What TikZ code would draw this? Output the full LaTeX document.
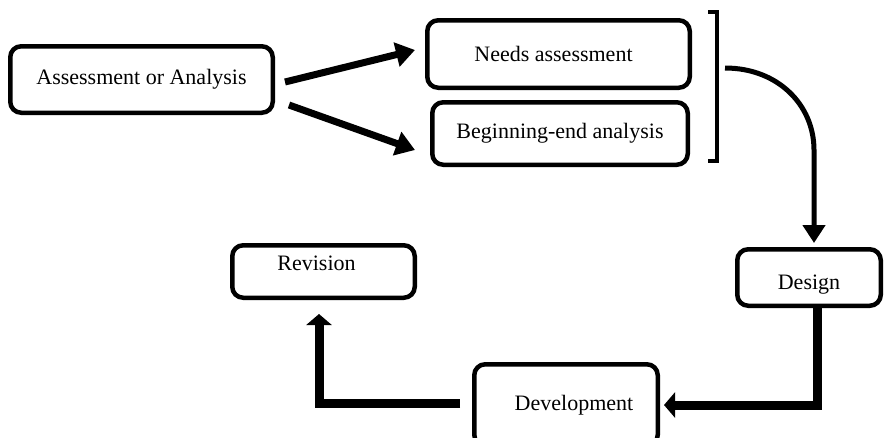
\documentclass[tikz,border=0pt]{standalone}
\usepackage{fontspec}
\setmainfont{Liberation Serif}
\usetikzlibrary{arrows.meta,calc}
\begin{document}
\begin{tikzpicture}[x=1pt,y=-1pt,
  box/.style={draw,line width=4.5pt,rounded corners=11pt,fill=white,
    font=\fontsize{22}{26}\selectfont,inner sep=0pt,align=center},
  thinarrow/.style={line width=7pt,-{Triangle[length=19pt,width=24pt]}},
  curvearrow/.style={line width=5pt,-{Triangle[length=18pt,width=22pt]}},
  thickarrow/.style={line width=9pt,line join=miter,-{Triangle[length=11pt,width=25pt]}}]
\useasboundingbox (0,0) rectangle (885,437);
\node[box,minimum width=262.5pt,minimum height=66.5pt] (assess) at (141.5,79.5) {Assessment or Analysis};
\node[box,minimum width=262.5pt,minimum height=67.5pt] (needs) at (558.5,54) {Needs assessment\hspace{10pt}};
\node[box,minimum width=255.5pt,minimum height=62.5pt] (begin) at (560,133.5) {Beginning-end analysis};
\node[box,minimum width=143.5pt,minimum height=56.5pt,text height=23pt,text depth=0pt] (design) at (809,277.5) {Design};
\node[box,minimum width=183.5pt,minimum height=81.5pt] (dev) at (566,405) {\hspace{16pt}Development};
\node[box,minimum width=182.5pt,minimum height=52.5pt,text height=15pt,text depth=18pt] (rev) at (323.5,271.5) {Revision\hspace{14pt}};
% bracket
\draw[line width=4.5pt,line join=miter] (708,12) -- (717,12) -- (717,161) -- (708,161);
\coordinate (cstart) at (725,68);
% arrows
\draw[thinarrow] ($(assess.east)+(10,2.5)$) -- ($(needs.west)+(-10,-4)$);
\draw[thinarrow] ($(assess.east)+(14,25.5)$) -- ($(begin.west)+(-15,16.5)$);
\draw[curvearrow] (cstart) .. controls (778,68) and (814,105) .. (814,150) -- ($(design.north)+(5,-4)$);
\draw[thickarrow] ($(design.south)+(8,0)$) |- ($(dev.east)+(4,0)$);
\draw[thickarrow] ($(dev.west)+(-12,-2)$) -| ($(rev.south)+(-4.5,14)$);
\end{tikzpicture}
\end{document}
